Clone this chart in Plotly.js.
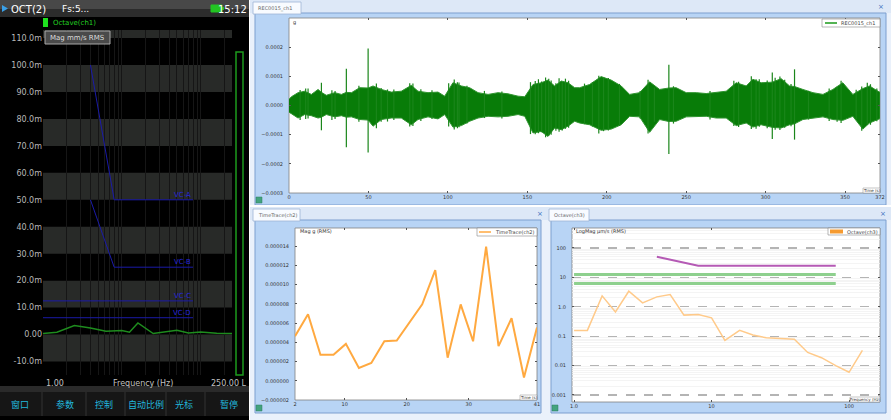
<!DOCTYPE html>
<html><head><meta charset="utf-8">
<script src="https://cdn.plot.ly/plotly-3.0.1.min.js"></script>
<style>html,body{margin:0;padding:0;background:#fff;}#c{width:891px;height:420px;}</style>
</head><body><div id="c"></div>
<script>
// ---------- DATA ----------
// Criteria curves (µm/s)
const vcSlopeFreq = [4, 8, 80];
const vcA = [100, 50, 50];
const vcB = [50, 25, 25];
const vcFlatFreq = [1, 80];
const vcC = [12.5, 12.5];
const vcD = [6.25, 6.25];
const vcNames = ["VC-A", "VC-B", "VC-C", "VC-D"];

// Left panel octave data (µm/s)
const oct1Freq = [1, 1.5, 2.5, 4, 6.3, 10, 12.5, 16, 25, 35, 50, 70, 100, 160, 250];
const oct1Val  = [0.37, 0.86, 3.33, 2.47, 1.23, 1.48, 0.86, 4.32, 0.37, 0.99, 1.6, 0.62, 0.99, 0.49, 0.37];

// REC0015_ch1 time signal envelope (units 1e-5 g)
const envT = [0,1.5,5.7,9.9,14.1,18.3,20.4,23.5,28.8,33.0,36.1,39.3,44.5,49.8,52.9,58.1,64.4,70.7,77.0,81.2,87.5,93.8,98.0,103.2,108.5,113.7,119.0,125.3,131.6,137.9,144.2,148.4,153.6,158.8,163.0,167.2,171.4,175.6,179.8,182.9,189.2,196.5,202.8,209.1,214.4,220.7,227.0,233.3,239.1,243.7,250.0,256.3,262.6,268.9,275.2,281.5,287.8,292.0,297.2,304.2,309.8,315.1,318.2,323.5,329.8,336.1,342.3,348.6,354.9,361.2,365.4,370.7,372];
const envTop = [2.1,3.0,4.4,4.9,3.8,5.5,4.5,3.5,4.4,3.8,4.5,4.4,6.1,6.0,6.7,5.5,4.6,4.9,6.9,4.9,4.4,4.6,3.2,7.8,6.7,6.1,4.4,3.8,4.4,4.0,3.2,3.0,7.2,7.8,8.7,6.7,8.4,7.8,6.1,6.1,7.2,9.9,8.7,6.7,3.8,4.4,8.1,5.5,6.0,6.1,4.4,4.4,4.1,4.4,4.9,7.8,6.7,9.0,7.8,8.0,9.2,6.7,6.5,5.5,4.4,3.8,5.5,7.8,3.8,5.8,6.7,4.9,4.5];
const envBot = [-2.3,-2.8,-4.3,-3.1,-3.5,-4.3,-4.0,-3.1,-3.9,-3.5,-4.0,-3.9,-4.8,-5.0,-7.1,-4.8,-4.3,-4.3,-6.6,-4.8,-3.9,-4.6,-3.1,-7.4,-6.9,-5.4,-4.3,-3.7,-3.9,-3.7,-3.1,-3.7,-9.4,-8.9,-10.6,-7.7,-8.3,-7.1,-5.4,-6.0,-6.6,-8.5,-8.1,-6.6,-3.7,-3.9,-9.2,-4.8,-5.5,-5.4,-3.9,-3.9,-3.7,-4.3,-4.3,-6.9,-6.0,-7.4,-6.6,-7.5,-7.7,-6.6,-6.3,-4.8,-4.3,-3.9,-4.8,-5.1,-3.7,-8.1,-6.0,-4.8,-4.5];
// spikes (units 1e-5 g)
const spikeT   = [7,10.5,12,20.4,27,29,36.1,44,49.8,55,58,62,66,76,78,83,90,100.5,104,106,107,112,123,134,152,155,157,159,161.5,163.5,165,168,170,172,174,176,186,191,195,198,201,208,221,226,230,239.1,242,265,280,283,291,294,296,301,304.2,306,309,312,316,318.2,327,340,345,347.5,357,360.5,364,366,370];
const spikeTop = [5.3,5.8,5.8,7.8,5.2,5.0,12.6,6.8,19.5,7.5,6.0,5.5,5.5,7.6,7.5,5.6,5.2,7.6,8.9,8.0,7.9,6.8,5.0,4.8,8.0,8.4,9.0,8.2,9.6,9.2,8.6,7.6,9.3,8.0,9.2,8.5,7.5,8.0,10.2,9.5,9.4,7.4,5.0,8.8,6.2,14.0,6.6,5.0,8.5,8.1,10.0,9.0,9.0,8.6,11.3,9.5,9.9,8.8,7.4,12.4,5.0,5.8,6.4,8.5,5.4,6.5,7.8,7.3,5.8];
const spikeBot = [-5.0,-4.6,-4.5,-8.5,-5.0,-4.6,-14.3,-5.6,-16.1,-7.8,-5.6,-5.5,-5.0,-7.2,-7.0,-5.3,-4.6,-7.2,-8.2,-7.8,-7.5,-6.2,-4.3,-4.5,-9.8,-9.9,-9.5,-9.2,-10.9,-10.4,-10.0,-8.7,-9.0,-8.6,-8.0,-7.6,-6.4,-7.2,-9.6,-8.8,-8.6,-7.0,-4.5,-9.6,-5.6,-16.6,-6.2,-4.8,-7.0,-7.4,-8.1,-8.0,-7.3,-7.8,-11.5,-8.3,-8.4,-7.6,-7.1,-11.7,-4.8,-5.3,-5.6,-6.0,-4.7,-8.7,-6.6,-6.6,-5.4];

// TimeTrace(ch2) (g RMS)
const ttX = [2.0,4.1,6.1,8.2,10.2,12.3,14.3,16.4,18.4,20.5,22.5,24.6,26.6,28.7,30.7,32.8,34.8,36.9,38.9,41.0];
const ttY = [4.63e-6,6.92e-6,2.71e-6,2.71e-6,3.84e-6,1.34e-6,1.85e-6,4.11e-6,4.18e-6,6.17e-6,7.95e-6,11.52e-6,2.40e-6,7.95e-6,4.11e-6,13.95e-6,3.60e-6,6.51e-6,0.34e-6,5.55e-6];

// Octave(ch3) (µm/s RMS)
const oct3Freq = [1,1.25,1.6,2,2.5,3.15,4,5,6.3,8,10,12.5,16,20,25,31.5,40,50,63,80,100,125];
const oct3Val  = [0.157,0.157,2.35,0.67,3.38,1.36,2.17,2.61,0.52,0.55,0.42,0.072,0.157,0.109,0.088,0.084,0.079,0.028,0.0185,0.0099,0.0059,0.033];

// tick labels
const leftTickVals = [-10,0,10,20,30,40,50,60,70,80,90,100,110];
const leftTickText = ["-10.0m","0.00","10.0m","20.0m","30.0m","40.0m","50.0m","60.0m","70.0m","80.0m","90.0m","100.0m","110.0m"];
const toolbarLabels = ["窗口","参数","控制","自动比例","光标","暂停"];
const tabLabels = ["REC0015_ch1","TimeTrace(ch2)","Octave(ch3)"];

// ---------- LAYOUT HELPERS ----------
const W = 891, H = 420;
const fx = p => p / W, fy = p => 1 - p / H;
const dX = (a, b) => [fx(a), fx(b)];
const dY = (t, b) => [fy(b), fy(t)];
const FONT = "DejaVu Sans, Liberation Sans, sans-serif";
const shapes = [], annotations = [];
function rect(x0, y0, x1, y1, fill, line, lw, layer) {
  shapes.push({type: 'rect', xref: 'paper', yref: 'paper', x0: fx(x0), x1: fx(x1), y0: fy(y1), y1: fy(y0),
    fillcolor: fill || 'rgba(0,0,0,0)', line: {color: line || 'rgba(0,0,0,0)', width: lw || 0}, layer: layer || 'below'});
}
function seg(x0, y0, x1, y1, color, w, layer) {
  shapes.push({type: 'line', xref: 'paper', yref: 'paper', x0: fx(x0), x1: fx(x1), y0: fy(y0), y1: fy(y1),
    line: {color: color, width: w}, layer: layer || 'above'});
}
function txt(x, y, text, size, color, xa, extra) {
  annotations.push(Object.assign({xref: 'paper', yref: 'paper', x: fx(x), y: fy(y), text: text, showarrow: false,
    xanchor: xa || 'left', yanchor: 'middle', font: {family: FONT, size: size, color: color}}, extra || {}));
}

// ---------- LEFT DARK PANEL ----------
rect(0, 0, 249, 420, '#000000');
rect(0, 0, 249, 9, '#484848');
rect(0, 9, 249, 17, '#2c2c2c');
shapes.push({type: 'path', xref: 'paper', yref: 'paper', path: `M ${fx(2)} ${fy(5)} L ${fx(8)} ${fy(8.5)} L ${fx(2)} ${fy(12)} Z`, fillcolor: '#3aa0e8', line: {width: 0}, layer: 'above'});
txt(9, 9, "OCT(2)", 10, '#ffffff');
txt(60, 9, "Fs:5...", 9, '#ffffff');
rect(211, 5, 222, 12, '#22c422', '#22c422', 1, 'above');
rect(222, 7, 224, 10, '#22c422', '#22c422', 0, 'above');
txt(249, 9, "15:12", 10, '#ffffff', 'right');
rect(43, 18, 48, 27, '#1ee01e', null, 0, 'above');
txt(51, 22.5, "Octave(ch1)", 7, '#22d022');
rect(45, 31, 110, 44, '#4a4a4a', '#a8a8a8', 1, 'above');
txt(77.5, 37.5, "Mag mm/s RMS", 7, '#dddddd', 'center');
rect(236, 52, 243, 375, null, '#1d9a1d', 1.5, 'above');
txt(44, 383, "1.00", 8, '#c0c0c0');
txt(143, 383, "Frequency (Hz)", 8, '#c0c0c0', 'center');
txt(249, 383, "250.00 L", 8, '#c0c0c0', 'right');
rect(0, 386, 249, 392, '#2a2a2a');
rect(0, 392, 249, 416, '#161616');
[42, 86, 125, 166, 205].forEach(x => seg(x, 392, x, 416, '#333333', 1, 'below'));
const tbX = [20, 65, 104, 146, 184, 229];
toolbarLabels.forEach((t, i) => txt(tbX[i], 404, t, 9, '#22b8dd', 'center', {font: {family: 'Noto Sans CJK SC', size: 9, color: '#22b8dd'}}));

// ---------- RIGHT PANELS (frames) ----------
function panel(x0, y0, x1, y1, tabW, label, px0, py0, px1, py1, closeX) {
  rect(x0, y0, x1, y1, '#eaf1fb');
  rect(x0, y0, x1, y0 + 13, '#dde8f7');
  rect(x0 + 5, y0 + 13, x1 - 5, y1 - 7, '#b8d4f5', '#7d9fcf', 1);
  rect(x0 + 3, y0 + 2, x0 + 3 + tabW, y0 + 14, '#f8fbff', '#9fb5d5', 0.8);
  txt(x0 + 6, y0 + 8, label, 5, '#666666');
  txt(closeX, y0 + 7, "×", 7, '#3b6fc0', 'center');
  rect(px0, py0, px1, py1, '#ffffff', '#808080', 0.8);
  rect(x0 + 6, y1 - 15, x0 + 12, y1 - 9, '#43a37e', '#2f7f60', 0.5, 'above');
}
panel(250, 0, 891, 212, 48, tabLabels[0], 289, 18, 880, 193, 881);
panel(250, 207, 546, 420, 47, tabLabels[1], 295, 228, 537, 400, 540);
panel(546, 207, 891, 420, 40, tabLabels[2], 572, 228, 880, 402, 883);
rect(250, 205, 891, 207, '#ffffff');

// in-plot labels and legends
txt(291, 22, "g", 5, '#333');
rect(822, 19, 880, 27, '#ffffff', '#888888', 0.6, 'above');
seg(825, 23, 837, 23, '#1a9a1a', 1.5);
txt(839, 23, tabLabels[0], 5, '#444');
rect(863, 188, 880, 193, '#ffffff', '#888888', 0.5, 'above');
txt(871.5, 190.5, "Time (s)", 4, '#333', 'center');

txt(298, 231, "Mag g (RMS)", 5, '#333');
rect(477, 228, 537, 236, '#ffffff', '#888888', 0.6, 'above');
seg(479, 232, 491, 232, '#ffa940', 1.5);
txt(493, 232, tabLabels[1], 5, '#444');
rect(520, 395, 537, 400, '#ffffff', '#888888', 0.5, 'above');
txt(528.5, 397.5, "Time (s)", 4, '#333', 'center');

txt(574, 231, "LogMag µm/s (RMS)", 5, '#333');
rect(828, 228, 880, 235, '#ffffff', '#888888', 0.6, 'above');
rect(830, 229.5, 843, 233.5, '#f59a30', null, 0, 'above');
txt(845, 231.5, tabLabels[2], 5, '#444');
rect(850, 397, 880, 402, '#ffffff', '#888888', 0.5, 'above');
txt(865, 399.5, "Frequency (Hz)", 4, '#333', 'center');

// left panel gray bands (axis refs)
[[-10,0],[10,20],[30,40],[50,60],[70,80],[90,100],[110,113]].forEach(b => {
  shapes.push({type: 'rect', xref: 'x domain', yref: 'y', x0: 0, x1: 1, y0: b[0] / 1000, y1: b[1] / 1000,
    fillcolor: '#282a28', line: {width: 0}, layer: 'below'});
});

// ---------- TRACES ----------
const traces = [];
const toMm = a => a.map(v => v / 1000);
const blue = '#1a1aa8';
[[vcSlopeFreq, vcA], [vcSlopeFreq, vcB], [vcFlatFreq, vcC], [vcFlatFreq, vcD]].forEach((c, i) => {
  traces.push({x: c[0], y: toMm(c[1]), xaxis: 'x', yaxis: 'y', mode: 'lines', line: {color: blue, width: 1}, showlegend: false, hoverinfo: 'skip'});
  annotations.push({xref: 'x', yref: 'y', x: Math.log10(c[0][c[0].length - 1]), y: c[1][c[1].length - 1] / 1000, text: vcNames[i],
    showarrow: false, xanchor: 'right', yanchor: 'bottom', yshift: -1, font: {family: FONT, size: 7, color: '#2626d8'}});
});
traces.push({x: oct1Freq, y: toMm(oct1Val), xaxis: 'x', yaxis: 'y', mode: 'lines', line: {color: '#1e8c1e', width: 1.5}, showlegend: false});

// REC0015 signal
const s = v => v * 1e-5;
traces.push({x: envT.concat(envT.slice().reverse()), y: envTop.concat(envBot.slice().reverse()).map(s),
  xaxis: 'x2', yaxis: 'y2', mode: 'lines', fill: 'toself', fillcolor: '#087c08', line: {color: '#2f942f', width: 1}, showlegend: false});
const spx = [], spy = [];
spikeT.forEach((t, i) => { spx.push(t, t, null); spy.push(s(spikeBot[i]), s(spikeTop[i]), null); });
traces.push({x: spx, y: spy, xaxis: 'x2', yaxis: 'y2', mode: 'lines', line: {color: '#1a861a', width: 1.2}, showlegend: false, connectgaps: false});

// TimeTrace
traces.push({x: ttX, y: ttY, xaxis: 'x3', yaxis: 'y3', mode: 'lines', line: {color: '#ffa940', width: 2}, showlegend: false});

// Octave(ch3)
traces.push({x: vcSlopeFreq, y: vcB, xaxis: 'x4', yaxis: 'y4', mode: 'lines', line: {color: '#b55ab5', width: 2}, showlegend: false});
traces.push({x: vcFlatFreq, y: vcC, xaxis: 'x4', yaxis: 'y4', mode: 'lines', line: {color: '#8ed08e', width: 3}, showlegend: false});
traces.push({x: vcFlatFreq, y: vcD, xaxis: 'x4', yaxis: 'y4', mode: 'lines', line: {color: '#8ed08e', width: 3}, showlegend: false});
traces.push({x: oct3Freq, y: oct3Val, xaxis: 'x4', yaxis: 'y4', mode: 'lines', line: {color: '#ffca8a', width: 1.5}, showlegend: false});

// ---------- AXES ----------
const smallTick = {family: FONT, size: 5, color: '#333'};
const frameAx = {showline: false, zeroline: false, showgrid: false, ticks: 'inside', ticklen: 2, tickcolor: '#555', mirror: 'ticks', tickfont: smallTick, fixedrange: true};
const minorLog = [];
[0.001, 0.01, 0.1, 1, 10, 100].forEach(d => { for (let k = 2; k <= 9; k++) minorLog.push(d * k); });
const leftGrid = [];
[1, 10, 100].forEach(d => { for (let k = 1; k <= 9; k++) if (d * k <= 250) leftGrid.push(d * k); });

const layout = {
  width: W, height: H, margin: {l: 0, r: 0, t: 0, b: 0},
  paper_bgcolor: '#ffffff', plot_bgcolor: 'rgba(0,0,0,0)', showlegend: false,
  font: {family: FONT},
  xaxis: {domain: dX(43, 232), anchor: 'y', type: 'log', range: [0, Math.log10(250)], tickvals: leftGrid, showticklabels: false,
    showgrid: true, gridcolor: '#161616', gridwidth: 1, zeroline: false, showline: false, ticks: '', fixedrange: true},
  yaxis: {domain: dY(30, 375), anchor: 'x', range: [-0.015, 0.113], tickvals: leftTickVals.map(v => v / 1000), ticktext: leftTickText,
    tickfont: {family: FONT, size: 8, color: '#b8b8b8'}, showgrid: false, zeroline: false, showline: false, ticks: '', fixedrange: true},
  xaxis2: Object.assign({}, frameAx, {domain: dX(289, 880), anchor: 'y2', range: [0, 372], tickvals: [0, 50, 100, 150, 200, 250, 300, 350, 372]}),
  yaxis2: Object.assign({}, frameAx, {domain: dY(18, 193), anchor: 'x2', range: [-0.0003, 0.0003], tickvals: [-0.0003, -0.0002, -0.0001, 0, 0.0001, 0.0002],
    tickformat: '.4f', ticklabelstandoff: 5}),
  xaxis3: Object.assign({}, frameAx, {domain: dX(295, 537), anchor: 'y3', range: [2, 41], tickvals: [2, 10, 20, 30, 41]}),
  yaxis3: Object.assign({}, frameAx, {domain: dY(228, 400), anchor: 'x3', range: [-2e-6, 15.9e-6],
    tickvals: [-2e-6, 0, 2e-6, 4e-6, 6e-6, 8e-6, 10e-6, 12e-6, 14e-6], tickformat: '.6f', ticklabelstandoff: 5}),
  xaxis4: Object.assign({}, frameAx, {domain: dX(572, 880), anchor: 'y4', type: 'log', range: [-0.015, 2.225], tickvals: [1, 10, 100], ticktext: ['1.0', '10', '100']}),
  yaxis4: Object.assign({}, frameAx, {domain: dY(228, 402), anchor: 'x4', type: 'log', range: [-3.24, 2.68],
    tickvals: [0.001, 0.01, 0.1, 1, 10, 100], ticktext: ['0.001', '0.01', '0.1', '1.0', '10', '100'], ticklabelstandoff: 5,
    showgrid: true, gridcolor: '#b4b4b4', griddash: 'dash', gridwidth: 1.2,
    minor: {tickvals: minorLog, showgrid: true, gridcolor: '#f1f1f1', griddash: 'solid', gridwidth: 0.8, ticks: ''}}),
  shapes: shapes, annotations: annotations
};
Plotly.newPlot('c', traces, layout, {displayModeBar: false, staticPlot: true});
</script></body></html>
